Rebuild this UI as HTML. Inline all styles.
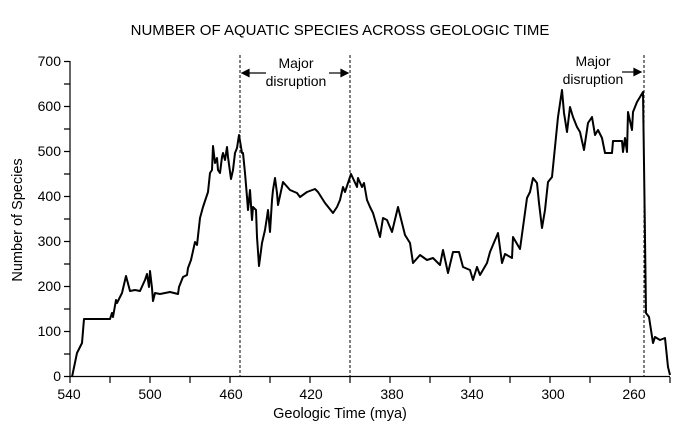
<!DOCTYPE html>
<html><head><style>body{margin:0;background:#fff}svg text{font-family:"Liberation Sans",Arial,sans-serif;fill:#000}</style></head><body>
<svg width="681" height="433" viewBox="0 0 681 433" xmlns="http://www.w3.org/2000/svg">
<text x="340" y="35" font-size="15" text-anchor="middle">NUMBER OF AQUATIC SPECIES ACROSS GEOLOGIC TIME</text>
<g stroke="#000" stroke-width="1.2" fill="none">
<line x1="70" y1="61" x2="70" y2="377"/>
<line x1="70" y1="376.5" x2="670" y2="376.5"/>
<path d="M64 376.5h6M64 354h6M64 331.5h6M64 309h6M64 286.5h6M64 264h6M64 241.5h6M64 219h6M64 196.5h6M64 174h6M64 151.5h6M64 129h6M64 106.5h6M64 84h6M64 61.5h6"/>
<path d="M70 377v6M110 377v6M150 377v6M190 377v6M230 377v6M270 377v6M310 377v6M350 377v6M390 377v6M430 377v6M470 377v6M510 377v6M550 377v6M590 377v6M630 377v6M670 377v6"/>
</g>
<g font-size="14" text-anchor="end">
<text x="61" y="381">0</text><text x="61" y="336">100</text><text x="61" y="291">200</text><text x="61" y="246">300</text><text x="61" y="201">400</text><text x="61" y="156">500</text><text x="61" y="111">600</text><text x="61" y="66">700</text>
</g>
<g font-size="14" text-anchor="middle">
<text x="69" y="399">540</text><text x="150" y="399">500</text><text x="231" y="399">460</text><text x="311" y="399">420</text><text x="392" y="399">380</text><text x="472" y="399">340</text><text x="553" y="399">300</text><text x="634" y="399">260</text>
<text x="340" y="418" font-size="14.5">Geologic Time (mya)</text>
<text transform="translate(22,220) rotate(-90)" font-size="14.5">Number of Species</text>
</g>
<g stroke="#000" stroke-width="1" stroke-dasharray="3,2">
<line x1="240" y1="55" x2="240" y2="376"/><line x1="350" y1="55" x2="350" y2="376"/><line x1="644" y1="55" x2="644" y2="376"/>
</g>
<g font-size="14" text-anchor="middle">
<text x="296" y="68">Major</text><text x="296" y="86">disruption</text>
<text x="593" y="66">Major</text><text x="593" y="84">disruption</text>
</g>
<g stroke="#000" stroke-width="1.2" fill="#000">
<line x1="244" y1="73" x2="266" y2="73"/><path d="M242 73l7-3.5v7z"/>
<line x1="329" y1="73" x2="343" y2="73"/><path d="M348 73l-7-3.5v7z"/>
<line x1="622" y1="72" x2="636" y2="72"/><path d="M641 72l-7-3.5v7z"/>
</g>
<polyline fill="none" stroke="#000" stroke-width="2" stroke-linejoin="round" points="72,377 77,353 82,343 84,319 110,319 112,313 113,317 116,300 117,303 122,293 126,276 130,291 135,290 140,291 145,280 147,274 149,287 150,271 152,288 153,301 155,293 160,294 170,292 178,294 179,287 183,277 187,275 188,268 191,260 195,242 197,245 200,218 203,207 208,192 210,173 212,170 213,146 215,163 217,158 218,170 220,173 222,157 223,153 225,160 227,147 228,157 231,179 233,170 235,153 237,148 239,135 242,153 243,153 245,173 247,197 248,210 250,190 252,220 253,207 256,210 257,237 259,266 262,243 265,230 267,217 268,210 270,232 272,200 273,190 275,178 277,193 278,205 283,182 290,190 297,193 300,197 307,192 315,189 318,192 325,203 333,213 337,207 340,200 343,187 345,192 351,174 357,187 358,178 362,187 364,183 367,200 370,207 373,213 380,237 383,218 387,220 392,232 398,207 405,235 410,243 413,263 420,255 427,260 433,258 440,265 443,250 448,273 453,252 459,252 463,267 470,270 473,280 477,267 480,275 487,263 490,252 498,233 502,263 505,254 512,258 513,237 520,249 527,198 530,192 533,178 537,183 539,203 542,228 545,210 548,182 552,177 558,117 562,90 564,113 567,132 570,107 573,117 577,127 580,132 584,150 588,123 592,117 595,135 598,130 602,138 605,153 612,153 613,141 622,141 623,152 625,138 627,152 628,112 632,130 633,112 637,102 643,92 644,163 646,313 649,317 653,343 655,337 660,340 665,338 668,367 670,375"/>
</svg>
</body></html>
